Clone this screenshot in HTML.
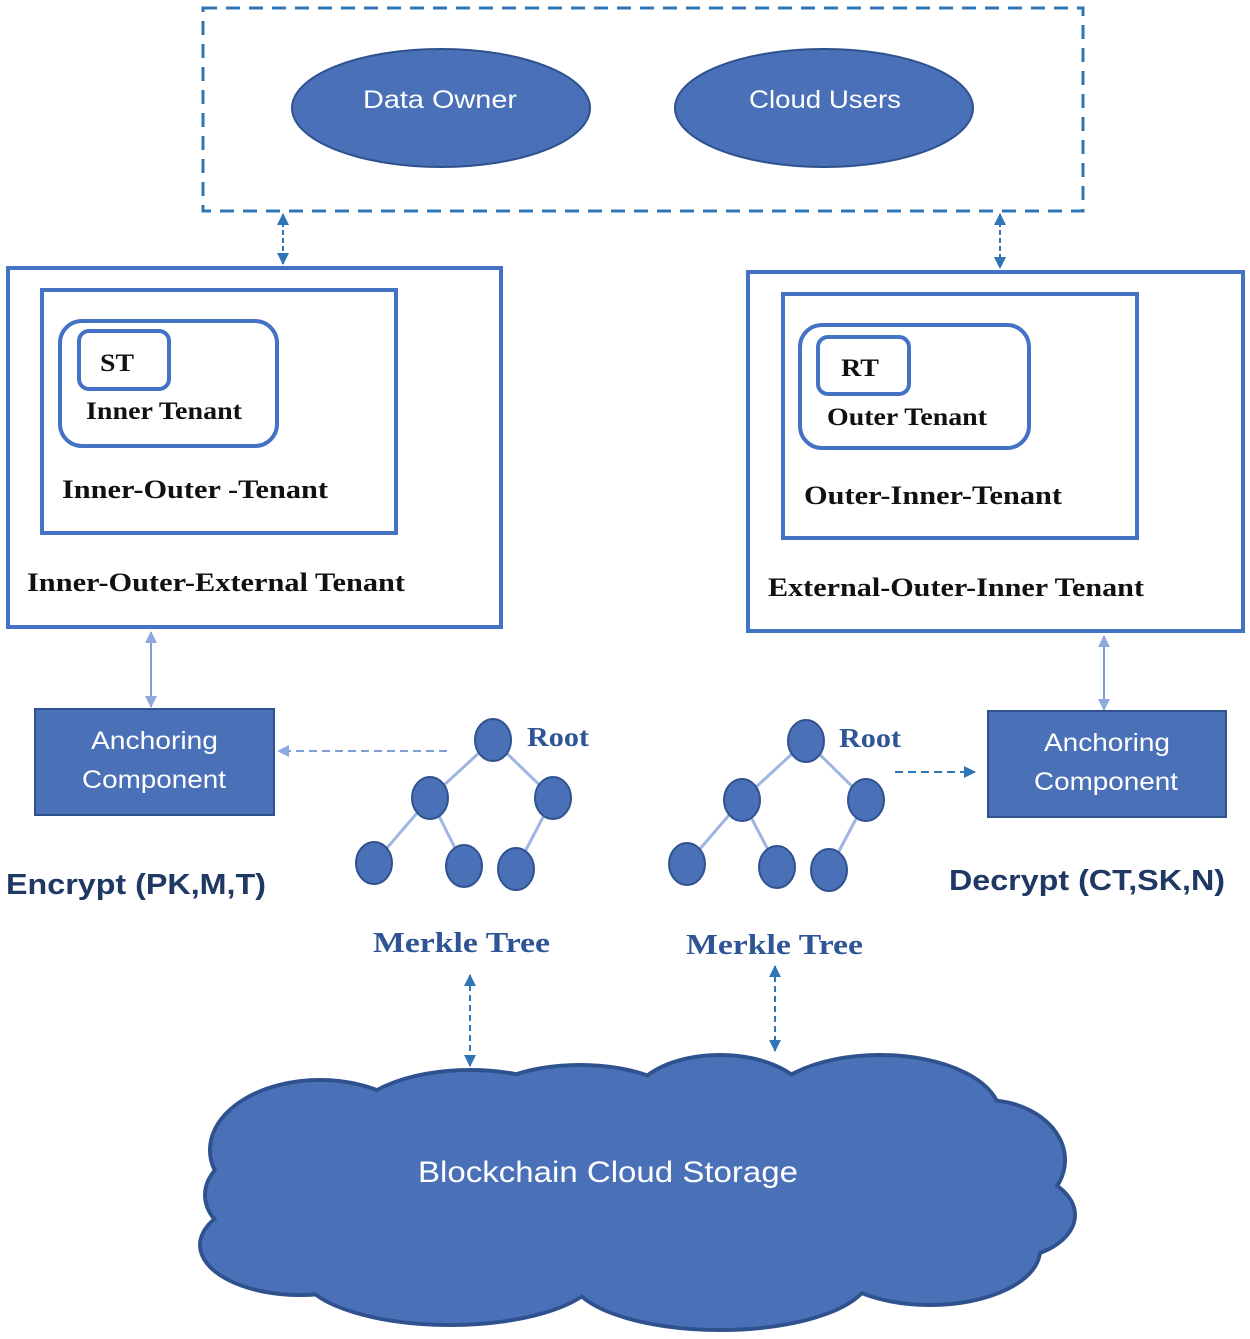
<!DOCTYPE html>
<html><head><meta charset="utf-8"><style>
html,body{margin:0;padding:0;background:#fff}
svg{display:block}
.s{font-family:"Liberation Serif",serif;font-weight:bold;fill:#111}
.w{font-family:"Liberation Sans",sans-serif;fill:#fff}
.m{font-family:"Liberation Serif",serif;font-weight:bold;fill:#2f5597}
.e{font-family:"Liberation Sans",sans-serif;font-weight:bold;fill:#1f3864}
</style></head><body>
<svg width="1250" height="1339" viewBox="0 0 1250 1339" xmlns="http://www.w3.org/2000/svg">
<defs>
<marker id="b" markerWidth="12" markerHeight="12" refX="11" refY="6" orient="auto-start-reverse" markerUnits="userSpaceOnUse"><path d="M0,0 L12,6 L0,12z" fill="#2e75b6"/></marker>
<marker id="c" markerWidth="12" markerHeight="12" refX="11" refY="6" orient="auto-start-reverse" markerUnits="userSpaceOnUse"><path d="M0,0 L12,6 L0,12z" fill="#8fa9dc"/></marker>
</defs>
<rect x="203" y="8" width="880" height="203" fill="none" stroke="#2e75b6" stroke-width="3" stroke-dasharray="14,9"/>
<ellipse cx="441" cy="108" rx="149" ry="59" fill="#4a70b8" stroke="#2f528f" stroke-width="2"/>
<ellipse cx="824" cy="108" rx="149" ry="59" fill="#4a70b8" stroke="#2f528f" stroke-width="2"/>
<text x="363" y="108" class="w" font-size="25" textLength="154" lengthAdjust="spacingAndGlyphs">Data Owner</text>
<text x="749" y="108" class="w" font-size="25" textLength="152" lengthAdjust="spacingAndGlyphs">Cloud Users</text>
<line x1="283" y1="214" x2="283" y2="264" stroke="#2e75b6" stroke-width="2" stroke-dasharray="5,3" marker-start="url(#b)" marker-end="url(#b)"/>
<line x1="1000" y1="214" x2="1000" y2="268" stroke="#2e75b6" stroke-width="2" stroke-dasharray="5,3" marker-start="url(#b)" marker-end="url(#b)"/>
<rect x="8" y="268" width="493" height="359" fill="none" stroke="#4472c4" stroke-width="4"/>
<rect x="42" y="290" width="354" height="243" fill="none" stroke="#4472c4" stroke-width="4"/>
<rect x="60" y="321" width="217" height="125" rx="22" fill="none" stroke="#4472c4" stroke-width="4"/>
<rect x="79" y="331" width="90" height="58" rx="10" fill="none" stroke="#4472c4" stroke-width="4"/>
<text x="100" y="371" class="s" font-size="25" textLength="34" lengthAdjust="spacingAndGlyphs">ST</text>
<text x="86" y="419" class="s" font-size="25" textLength="156" lengthAdjust="spacingAndGlyphs">Inner Tenant</text>
<text x="62" y="498" class="s" font-size="26" textLength="266" lengthAdjust="spacingAndGlyphs">Inner-Outer -Tenant</text>
<text x="27" y="591" class="s" font-size="26" textLength="378" lengthAdjust="spacingAndGlyphs">Inner-Outer-External Tenant</text>
<rect x="748" y="272" width="495" height="359" fill="none" stroke="#4472c4" stroke-width="4"/>
<rect x="783" y="294" width="354" height="244" fill="none" stroke="#4472c4" stroke-width="4"/>
<rect x="800" y="325" width="229" height="123" rx="22" fill="none" stroke="#4472c4" stroke-width="4"/>
<rect x="818" y="337" width="91" height="57" rx="10" fill="none" stroke="#4472c4" stroke-width="4"/>
<text x="841" y="376" class="s" font-size="25" textLength="38" lengthAdjust="spacingAndGlyphs">RT</text>
<text x="827" y="425" class="s" font-size="25" textLength="160" lengthAdjust="spacingAndGlyphs">Outer Tenant</text>
<text x="804" y="504" class="s" font-size="26" textLength="258" lengthAdjust="spacingAndGlyphs">Outer-Inner-Tenant</text>
<text x="768" y="596" class="s" font-size="26" textLength="376" lengthAdjust="spacingAndGlyphs">External-Outer-Inner Tenant</text>
<line x1="151" y1="632" x2="151" y2="707" stroke="#7f9fd6" stroke-width="2" marker-start="url(#c)" marker-end="url(#c)"/>
<line x1="1104" y1="636" x2="1104" y2="710" stroke="#7f9fd6" stroke-width="2" marker-start="url(#c)" marker-end="url(#c)"/>
<rect x="35" y="709" width="239" height="106" fill="#4a70b8" stroke="#2f528f" stroke-width="2"/>
<text x="91" y="749" class="w" font-size="25" textLength="127" lengthAdjust="spacingAndGlyphs">Anchoring</text>
<text x="82" y="788" class="w" font-size="25" textLength="144" lengthAdjust="spacingAndGlyphs">Component</text>
<rect x="988" y="711" width="238" height="106" fill="#4a70b8" stroke="#2f528f" stroke-width="2"/>
<text x="1044" y="751" class="w" font-size="25" textLength="126" lengthAdjust="spacingAndGlyphs">Anchoring</text>
<text x="1034" y="790" class="w" font-size="25" textLength="144" lengthAdjust="spacingAndGlyphs">Component</text>
<line x1="447" y1="751" x2="278" y2="751" stroke="#7f9fd6" stroke-width="2" stroke-dasharray="8,5" marker-end="url(#c)"/>
<line x1="895" y1="772" x2="975" y2="772" stroke="#2e75b6" stroke-width="2" stroke-dasharray="8,5" marker-end="url(#b)"/>
<text x="6" y="894" class="e" font-size="29" textLength="260" lengthAdjust="spacingAndGlyphs">Encrypt (PK,M,T)</text>
<text x="949" y="890" class="e" font-size="29" textLength="276" lengthAdjust="spacingAndGlyphs">Decrypt (CT,SK,N)</text>
<g stroke="#9db6e3" stroke-width="3">
<line x1="493" y1="740" x2="430" y2="798"/><line x1="493" y1="740" x2="553" y2="798"/>
<line x1="430" y1="798" x2="374" y2="863"/><line x1="430" y1="798" x2="464" y2="866"/><line x1="553" y1="798" x2="516" y2="869"/>
<line x1="806" y1="741" x2="742" y2="800"/><line x1="806" y1="741" x2="866" y2="800"/>
<line x1="742" y1="800" x2="687" y2="864"/><line x1="742" y1="800" x2="777" y2="867"/><line x1="866" y1="800" x2="829" y2="870"/>
</g>
<g fill="#4a70b8" stroke="#2f528f" stroke-width="2">
<ellipse cx="493" cy="740" rx="18" ry="21"/><ellipse cx="430" cy="798" rx="18" ry="21"/><ellipse cx="553" cy="798" rx="18" ry="21"/>
<ellipse cx="374" cy="863" rx="18" ry="21"/><ellipse cx="464" cy="866" rx="18" ry="21"/><ellipse cx="516" cy="869" rx="18" ry="21"/>
<ellipse cx="806" cy="741" rx="18" ry="21"/><ellipse cx="742" cy="800" rx="18" ry="21"/><ellipse cx="866" cy="800" rx="18" ry="21"/>
<ellipse cx="687" cy="864" rx="18" ry="21"/><ellipse cx="777" cy="867" rx="18" ry="21"/><ellipse cx="829" cy="870" rx="18" ry="21"/>
</g>
<text x="527" y="746" class="m" font-size="27" textLength="62" lengthAdjust="spacingAndGlyphs">Root</text>
<text x="839" y="747" class="m" font-size="27" textLength="62" lengthAdjust="spacingAndGlyphs">Root</text>
<text x="373" y="952" class="m" font-size="29" textLength="177" lengthAdjust="spacingAndGlyphs">Merkle Tree</text>
<text x="686" y="954" class="m" font-size="29" textLength="177" lengthAdjust="spacingAndGlyphs">Merkle Tree</text>
<g stroke="#2f528f" stroke-width="4" fill="#4a70b8">
<ellipse cx="320" cy="1150" rx="110" ry="70"/>
<ellipse cx="470" cy="1125" rx="120" ry="55"/>
<ellipse cx="580" cy="1115" rx="110" ry="50"/>
<ellipse cx="720" cy="1105" rx="90" ry="50"/>
<ellipse cx="880" cy="1115" rx="120" ry="60"/>
<ellipse cx="985" cy="1160" rx="80" ry="60"/>
<ellipse cx="1000" cy="1215" rx="75" ry="45"/>
<ellipse cx="930" cy="1250" rx="110" ry="55"/>
<ellipse cx="720" cy="1275" rx="150" ry="55"/>
<ellipse cx="450" cy="1270" rx="150" ry="55"/>
<ellipse cx="300" cy="1245" rx="100" ry="50"/>
<ellipse cx="265" cy="1195" rx="60" ry="45"/>
</g>
<g fill="#4a70b8">
<ellipse cx="320" cy="1150" rx="108" ry="68"/>
<ellipse cx="470" cy="1125" rx="118" ry="53"/>
<ellipse cx="580" cy="1115" rx="108" ry="48"/>
<ellipse cx="720" cy="1105" rx="88" ry="48"/>
<ellipse cx="880" cy="1115" rx="118" ry="58"/>
<ellipse cx="985" cy="1160" rx="78" ry="58"/>
<ellipse cx="1000" cy="1215" rx="73" ry="43"/>
<ellipse cx="930" cy="1250" rx="108" ry="53"/>
<ellipse cx="720" cy="1275" rx="148" ry="53"/>
<ellipse cx="450" cy="1270" rx="148" ry="53"/>
<ellipse cx="300" cy="1245" rx="98" ry="48"/>
<ellipse cx="265" cy="1195" rx="58" ry="43"/>
<rect x="300" y="1130" width="700" height="150"/>
</g>
<line x1="470" y1="975" x2="470" y2="1066" stroke="#2e75b6" stroke-width="2" stroke-dasharray="6,4" marker-start="url(#b)" marker-end="url(#b)"/>
<line x1="775" y1="966" x2="775" y2="1051" stroke="#2e75b6" stroke-width="2" stroke-dasharray="6,4" marker-start="url(#b)" marker-end="url(#b)"/>
<text x="418" y="1182" class="w" font-size="30" textLength="380" lengthAdjust="spacingAndGlyphs">Blockchain Cloud Storage</text>
</svg>
</body></html>
